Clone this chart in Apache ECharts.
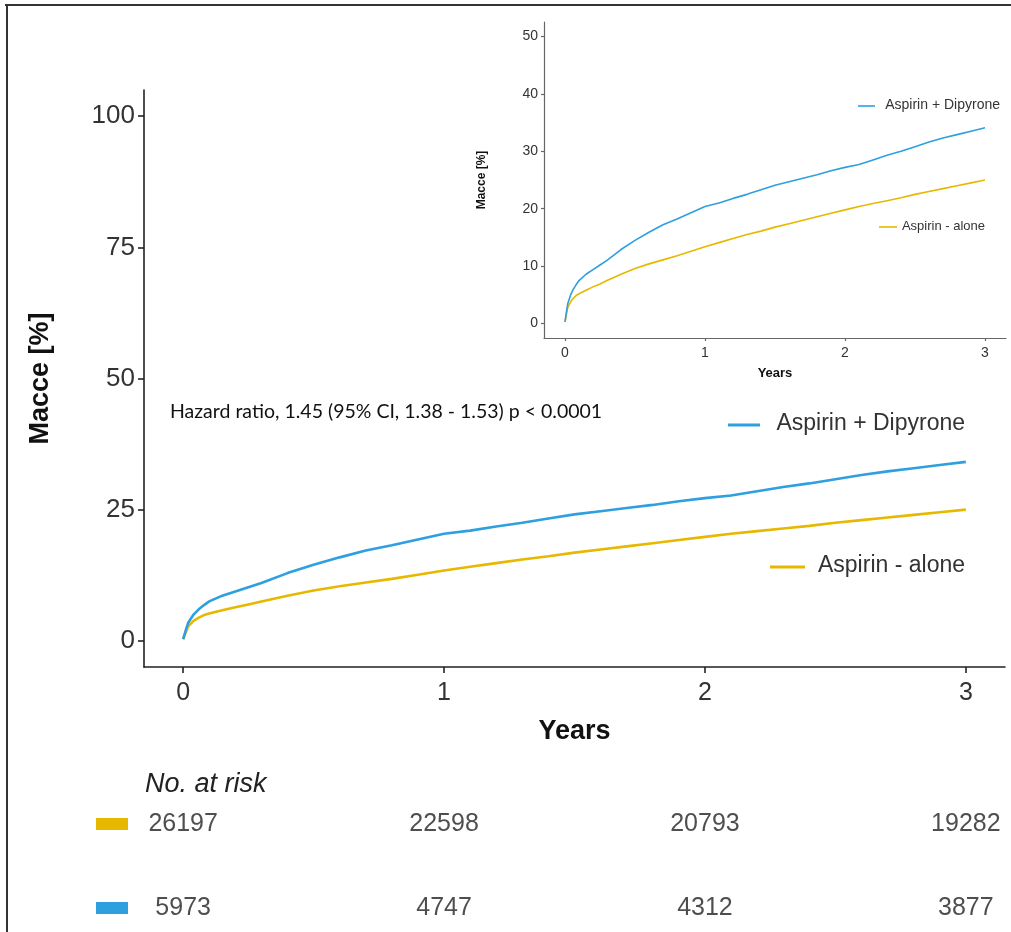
<!DOCTYPE html>
<html>
<head>
<meta charset="utf-8">
<script src="https://cdn.jsdelivr.net/npm/echarts@6/dist/echarts.min.js"></script>
<style>
html,body{margin:0;padding:0;background:#fff;}
#chart{width:1011px;height:932px;}
</style>
</head>
<body>
<div id="chart"></div>
<script>
// ---- data ----
var years = [0, 0.01, 0.02, 0.04, 0.06, 0.08, 0.1, 0.15, 0.2, 0.25, 0.3, 0.4, 0.5, 0.6, 0.7, 0.8, 0.9, 1.0, 1.1, 1.2, 1.3, 1.4, 1.5, 1.6, 1.7, 1.8, 1.9, 2.0, 2.1, 2.2, 2.3, 2.4, 2.5, 2.6, 2.7, 2.8, 2.9, 3.0];
var dipyrone = [0.3, 2.0, 3.5, 5.0, 6.0, 6.8, 7.5, 8.6, 9.4, 10.2, 11.0, 12.9, 14.5, 15.9, 17.2, 18.2, 19.3, 20.4, 21.0, 21.8, 22.5, 23.3, 24.1, 24.7, 25.3, 25.9, 26.6, 27.2, 27.7, 28.5, 29.3, 30.0, 30.8, 31.6, 32.3, 32.9, 33.5, 34.1];
var alone = [0.3, 1.6, 2.8, 3.8, 4.4, 4.9, 5.2, 5.8, 6.4, 6.9, 7.5, 8.6, 9.6, 10.4, 11.1, 11.8, 12.6, 13.4, 14.1, 14.8, 15.5, 16.1, 16.8, 17.4, 18.0, 18.6, 19.2, 19.8, 20.4, 20.9, 21.4, 21.9, 22.5, 23.0, 23.5, 24.0, 24.5, 25.0];
var xTicks = [0, 1, 2, 3];
var yTicksMain = [0, 25, 50, 75, 100];
var yTicksInset = [0, 10, 20, 30, 40, 50];
var riskTimes = [0, 1, 2, 3];
var riskAlone = [26197, 22598, 20793, 19282];
var riskDipyrone = [5973, 4747, 4312, 3877];
var groupNames = ['Aspirin + Dipyrone', 'Aspirin - alone'];
var hrText = 'Hazard ratio, 1.45 (95% CI, 1.38 - 1.53) p < 0.0001';

var cBlue = '#2E9FDF', cYellow = '#E7B800';
var FONT = '"Liberation Sans", Arial, sans-serif';

function pairs(xs, ys){ return xs.map(function(x,i){ return [x, ys[i]]; }); }

var chart = echarts.init(document.getElementById('chart'), null, {renderer:'canvas'});

var mainAxisLine = {show:true, onZero:false, lineStyle:{color:'#222', width:1.6}};
var insetAxisLine = {show:true, onZero:false, lineStyle:{color:'#666', width:1.2}};

var option = {
  animation:false,
  backgroundColor:'#fff',
  grid:[
    {left:144, width:861, top:90, height:577},
    {left:544, width:462, top:22, height:316},
    {left:144, width:861, top:824, height:84}
  ],
  xAxis:[
    {gridIndex:0, type:'value', min:-0.15, max:3.15,
     axisLine:mainAxisLine, splitLine:{show:false},
     axisTick:{show:true, customValues:xTicks, length:6, lineStyle:{color:'#222', width:1.6}},
     axisLabel:{customValues:xTicks, fontSize:25, color:'#333', fontFamily:FONT, margin:14},
     name:'Years', nameLocation:'middle', nameGap:51,
     nameTextStyle:{fontSize:27, fontWeight:'bold', color:'#111', fontFamily:FONT}},
    {gridIndex:1, type:'value', min:-0.15, max:3.15,
     axisLine:insetAxisLine, splitLine:{show:false},
     axisTick:{show:true, customValues:xTicks, length:3, lineStyle:{color:'#666', width:1.2}},
     axisLabel:{customValues:xTicks, fontSize:14, color:'#333', fontFamily:FONT, margin:8},
     name:'Years', nameLocation:'middle', nameGap:29,
     nameTextStyle:{fontSize:13, fontWeight:'bold', color:'#111', fontFamily:FONT}},
    {gridIndex:2, type:'value', min:-0.15, max:3.15, show:false}
  ],
  yAxis:[
    {gridIndex:0, type:'value', min:-5, max:105,
     axisLine:mainAxisLine, splitLine:{show:false},
     axisTick:{show:true, customValues:yTicksMain, length:6, lineStyle:{color:'#222', width:1.6}},
     axisLabel:{customValues:yTicksMain, fontSize:26, color:'#333', fontFamily:FONT, margin:9},
     name:'Macce [%]', nameLocation:'middle', nameGap:90, nameRotate:90,
     nameTextStyle:{fontSize:27, fontWeight:'bold', color:'#111', fontFamily:FONT}},
    {gridIndex:1, type:'value', min:-2.5, max:52.5,
     axisLine:insetAxisLine, splitLine:{show:false},
     axisTick:{show:true, customValues:yTicksInset, length:3, lineStyle:{color:'#666', width:1.2}},
     axisLabel:{customValues:yTicksInset, fontSize:14, color:'#333', fontFamily:FONT, margin:6},
     name:'Macce [%]', nameLocation:'middle', nameGap:56, nameRotate:90,
     nameTextStyle:{fontSize:12, fontWeight:'bold', color:'#111', fontFamily:FONT}},
    {gridIndex:2, type:'category', data:[groupNames[0], groupNames[1]], boundaryGap:false, show:false}
  ],
  series:[
    {type:'line', xAxisIndex:0, yAxisIndex:0, name:groupNames[0], data:pairs(years, dipyrone),
     showSymbol:false, lineStyle:{color:cBlue, width:2.6}, z:3},
    {type:'line', xAxisIndex:0, yAxisIndex:0, name:groupNames[1], data:pairs(years, alone),
     showSymbol:false, lineStyle:{color:cYellow, width:2.6}, z:2},
    {type:'line', xAxisIndex:1, yAxisIndex:1, name:groupNames[0]+' inset', data:pairs(years, dipyrone),
     showSymbol:false, lineStyle:{color:cBlue, width:1.6}, z:3},
    {type:'line', xAxisIndex:1, yAxisIndex:1, name:groupNames[1]+' inset', data:pairs(years, alone),
     showSymbol:false, lineStyle:{color:cYellow, width:1.6}, z:2},
    {type:'scatter', xAxisIndex:2, yAxisIndex:2, symbolSize:0,
     data:riskTimes.map(function(t,i){ return [t, groupNames[1], riskAlone[i]]; })
       .concat(riskTimes.map(function(t,i){ return [t, groupNames[0], riskDipyrone[i]]; })),
     label:{show:true, position:'inside', formatter:function(p){ return String(p.value[2]); },
            fontSize:25, color:'#222', fontFamily:FONT}}
  ],
  graphic:[
    // outer frame (top and left edges)
    {type:'line', shape:{x1:5, y1:5, x2:1011, y2:5}, style:{stroke:'#333', lineWidth:2}},
    {type:'line', shape:{x1:7, y1:5, x2:7, y2:932}, style:{stroke:'#333', lineWidth:2}},
    // hazard ratio annotation
    {type:'text', left:170, top:402, style:{text:hrText, font:'19.5px Lato, "Open Sans", sans-serif', fill:'#111'}},
    // main legend
    {type:'line', shape:{x1:728, y1:425, x2:760, y2:425}, style:{stroke:cBlue, lineWidth:3}},
    {type:'text', right:46, top:412, style:{text:groupNames[0], font:'23px ' + FONT, fill:'#333'}},
    {type:'line', shape:{x1:770, y1:567, x2:805, y2:567}, style:{stroke:cYellow, lineWidth:3}},
    {type:'text', right:46, top:554, style:{text:groupNames[1], font:'23px ' + FONT, fill:'#333'}},
    // inset legend
    {type:'line', shape:{x1:858, y1:106, x2:875, y2:106}, style:{stroke:cBlue, lineWidth:1.6}},
    {type:'text', right:11, top:98, style:{text:groupNames[0], font:'14px ' + FONT, fill:'#333'}},
    {type:'line', shape:{x1:879, y1:227, x2:897, y2:227}, style:{stroke:cYellow, lineWidth:1.6}},
    {type:'text', right:26, top:220, style:{text:groupNames[1], font:'13px ' + FONT, fill:'#333'}},
    // risk table
    {type:'text', left:145, top:771, style:{text:'No. at risk', font:'italic 27px ' + FONT, fill:'#222'}},
    {type:'rect', shape:{x:96, y:818, width:32, height:12}, style:{fill:cYellow}},
    {type:'rect', shape:{x:96, y:902, width:32, height:12}, style:{fill:cBlue}}
  ]
};
chart.setOption(option);
</script>
</body>
</html>
